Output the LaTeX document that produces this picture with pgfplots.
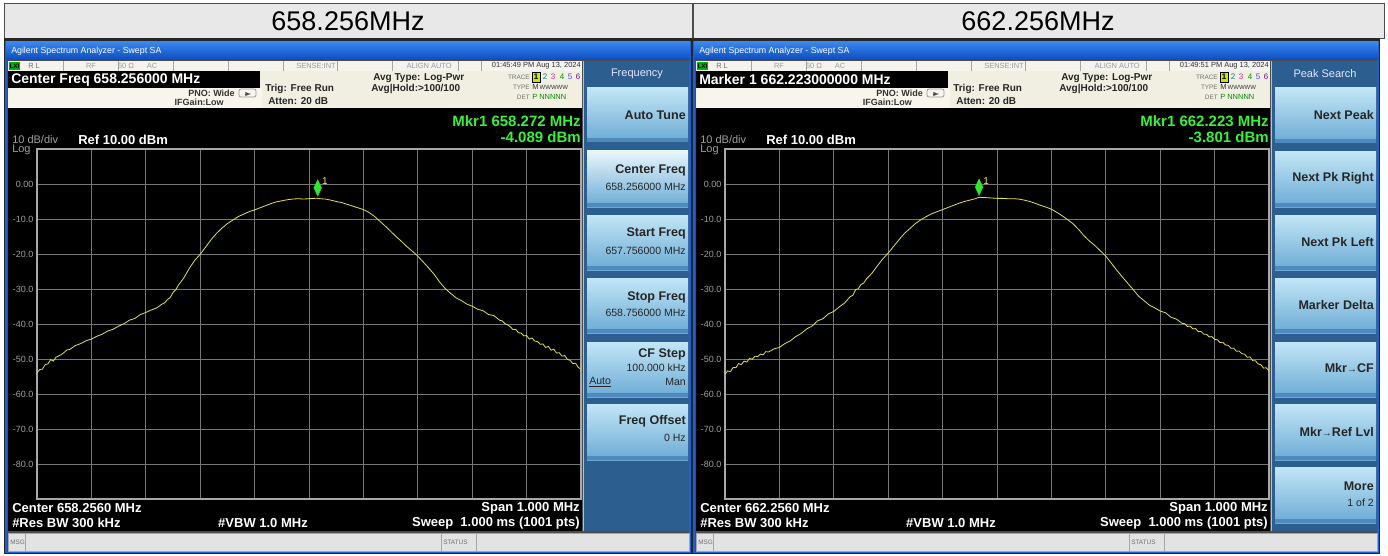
\documentclass[border=0pt]{standalone}
\usepackage{pgfplots}
\pgfplotsset{compat=1.18}
\usepackage{fontspec}
\setmainfont{Liberation Sans}
\newcommand\fs[1]{\fontsize{#1}{#1}\selectfont}
\definecolor{titlebg}{HTML}{E8E8E8}
\definecolor{winblue}{HTML}{1C5FD6}
\definecolor{wintop}{HTML}{3A86EE}
\definecolor{winbot}{HTML}{0A4CC0}
\definecolor{statbg}{HTML}{F4F3EE}
\definecolor{infobg}{HTML}{F1EFE2}
\definecolor{infobg2}{HTML}{F7F5EC}
\definecolor{skpanel}{HTML}{2D5E90}
\definecolor{btntop}{HTML}{C2E6F5}
\definecolor{btnmid}{HTML}{86C5E3}
\definecolor{btnbot}{HTML}{6BAAD5}
\definecolor{btnband}{HTML}{4F8ABD}
\definecolor{btnhtop}{HTML}{E8F6FB}
\definecolor{btnhmid}{HTML}{B0DCF0}
\definecolor{gridc}{HTML}{767676}
\definecolor{axc}{HTML}{A8A8A8}
\definecolor{trace}{HTML}{E2E24C}
\definecolor{mkg}{HTML}{2EE82E}
\definecolor{mktxt}{HTML}{3AF03A}
\definecolor{tickc}{HTML}{A0A0A0}
\definecolor{msgbg}{HTML}{E3E3E3}
\definecolor{stattxt}{HTML}{707070}

\pgfplotstableread{
x y
-500 -54.0
-495 -53.0
-490 -52.9
-485 -51.6
-480 -51.4
-475 -50.2
-470 -50.6
-465 -49.5
-460 -49.1
-455 -48.7
-450 -48.1
-445 -47.4
-440 -47.3
-430 -46.2
-420 -45.6
-410 -44.8
-400 -44.3
-390 -43.5
-380 -42.9
-370 -42.0
-360 -41.5
-350 -40.6
-340 -39.9
-330 -38.9
-320 -38.4
-310 -37.3
-300 -36.7
-290 -36.0
-280 -35.4
-270 -34.3
-265 -33.9
-260 -33.0
-255 -32.4
-250 -31.0
-245 -30.2
-240 -28.9
-230 -26.8
-220 -24.1
-210 -21.8
-200 -20.1
-190 -18.0
-180 -15.9
-170 -14.1
-160 -12.6
-150 -11.3
-140 -10.3
-130 -9.3
-120 -8.6
-110 -7.9
-100 -7.4
-90 -6.8
-80 -6.2
-70 -5.6
-60 -5.1
-50 -4.8
-40 -4.5
-30 -4.3
-20 -4.2
-10 -4.3
0 -4.2
10 -4.1
16 -4.09
20 -4.2
30 -4.3
40 -4.6
50 -5.0
60 -5.3
70 -5.8
80 -6.3
90 -6.8
100 -7.3
110 -8.1
120 -9.2
130 -10.6
140 -12.0
150 -13.5
160 -15.0
170 -16.4
180 -17.9
190 -19.2
200 -20.6
210 -22.3
220 -24.0
230 -25.8
240 -28.0
250 -29.8
260 -31.2
270 -32.5
280 -33.3
290 -34.3
300 -34.9
310 -35.8
320 -36.2
330 -37.3
340 -37.6
350 -38.9
355 -39.1
360 -39.9
365 -40.2
370 -40.8
375 -41.6
380 -41.5
385 -42.5
390 -42.6
395 -43.4
400 -43.3
405 -44.3
410 -44.0
415 -44.9
420 -45.0
425 -45.8
430 -45.7
435 -46.7
440 -46.4
445 -47.5
450 -47.2
455 -48.3
460 -48.2
465 -49.2
470 -49.0
475 -50.1
480 -50.4
485 -51.3
490 -51.2
495 -52.4
500 -52.9
}\traceA

\pgfplotstableread{
x y
-500 -54.3
-495 -53.4
-490 -53.6
-485 -52.4
-480 -52.5
-475 -51.3
-470 -51.6
-465 -50.6
-460 -50.9
-455 -49.8
-450 -50.1
-445 -49.2
-440 -49.3
-435 -48.6
-430 -48.8
-425 -47.9
-420 -48.0
-410 -47.1
-400 -46.7
-390 -45.6
-380 -44.8
-370 -43.6
-360 -42.7
-350 -41.4
-340 -40.6
-330 -39.1
-320 -38.5
-310 -37.1
-300 -36.4
-290 -35.1
-280 -34.0
-270 -32.2
-265 -31.8
-260 -30.2
-255 -29.9
-250 -28.7
-245 -28.3
-240 -27.1
-230 -25.5
-220 -23.4
-210 -21.4
-200 -19.7
-190 -17.8
-180 -15.9
-170 -14.1
-160 -12.7
-150 -11.3
-140 -10.2
-130 -9.3
-120 -8.5
-110 -7.9
-100 -7.3
-90 -6.7
-80 -6.1
-70 -5.5
-60 -5.0
-50 -4.6
-40 -4.2
-33 -3.80
-20 -3.9
-10 -4.0
0 -4.1
10 -4.1
20 -4.2
30 -4.2
40 -4.3
50 -4.6
60 -5.0
70 -5.5
80 -6.1
90 -6.6
100 -7.2
110 -8.1
120 -9.1
130 -10.2
140 -11.4
150 -13.0
160 -14.8
170 -16.3
180 -17.6
190 -19.1
200 -20.6
210 -22.6
220 -24.6
230 -26.5
240 -28.3
250 -30.1
260 -32.0
270 -33.3
280 -34.6
290 -35.4
300 -36.3
310 -36.8
320 -38.1
330 -38.6
340 -39.8
345 -39.9
350 -40.7
355 -40.6
360 -41.4
365 -41.3
370 -42.2
375 -42.1
380 -42.9
385 -42.9
390 -43.7
395 -43.6
400 -44.4
405 -44.5
410 -45.3
415 -45.2
420 -46.0
425 -46.1
430 -46.9
435 -46.9
440 -47.8
445 -47.7
450 -48.5
455 -48.6
460 -49.5
465 -49.4
470 -50.5
475 -50.5
480 -51.4
485 -51.6
490 -52.6
495 -52.5
500 -53.4
}\traceB

\pgfplotsset{sa/.style={
  width=408pt, height=262.5pt, scale only axis, anchor=south west,
  xmin=-500, xmax=500, ymin=-90, ymax=10,
  xtick={-400,-300,...,400}, xticklabels={},
  ytick={-80,-70,...,0},
  yticklabels={-80.0,-70.0,-60.0,-50.0,-40.0,-30.0,-20.0,-10.0,0.00},
  grid=major, major grid style={draw=gridc, line width=0.75pt},
  major tick length=0pt,
  axis line style={draw=axc, line width=1.2pt},
  axis background/.style={fill=black},
  yticklabel style={font=\fs{6.75}, text=tickc, inner sep=0pt, xshift=-2.5pt},
}}

\newcommand\btn[2]{% y0 y1 (x from 587 to 688)
  \shade[top color=btntop, middle color=btnmid, bottom color=btnbot] (587,#1) rectangle (688,#2);
  \fill[btnband] (587,#2-4) rectangle (688,#2);
}
\newcommand\btnh[2]{%
  \shade[top color=btnhtop, middle color=btnhmid, bottom color=btnbot] (587,#1) rectangle (688,#2);
  \fill[btnband] (587,#2-4) rectangle (688,#2);
}

\newcommand\common[2]{%
\begin{scope}[xshift=#1*0.75pt]
  \fill[black!85] (4,38) rectangle (692,554);
  \fill[winblue] (5,41) rectangle (691,553);
  \shade[top color=wintop, bottom color=winbot] (6,42) rectangle (690,60);
  \node[anchor=west, inner sep=0pt, text=white, font=\fs{6.6}] at (11,51) {Agilent Spectrum Analyzer - Swept SA};
  \fill[black!70] (7,60) rectangle (689,552);
  % status row
  \fill[statbg] (8,61) rectangle (582,71);
  \foreach \xx in {63,118,173,228,283,337,392,458,481} \draw[black!35, line width=0.5pt] (\xx,61) -- (\xx,71);
  \fill[green!70!black] (9,62) rectangle (20,70);
  \node[inner sep=0pt, font=\fs{4.8}\bfseries] at (14.5,66) {LXI};
  \node[anchor=west, inner sep=0pt, text=stattxt, font=\fs{5.6}] at (28,66) {R L};
  \node[inner sep=0pt, text=stattxt!70, font=\fs{5.6}] at (91,66) {RF};
  \node[inner sep=0pt, text=stattxt!70, font=\fs{5.6}] at (126,66) {50 Ω};
  \node[inner sep=0pt, text=stattxt!70, font=\fs{5.6}] at (152,66) {AC};
  \node[anchor=east, inner sep=0pt, text=stattxt!70, font=\fs{5.6}] at (336,66) {SENSE:INT};
  \node[anchor=east, inner sep=0pt, text=stattxt!70, font=\fs{5.6}] at (452,66) {ALIGN AUTO};
  % info area
  \fill[infobg] (8,71) rectangle (582,108);
  \fill[infobg2] (8,88) rectangle (262,108);
  \fill[black] (8,71) rectangle (260,88);
  \draw[black!40, rounded corners=1.5pt, line width=0.6pt] (239,89) rectangle (256,97);
  \draw[black!70, -latex, line width=0.5pt] (245,94) -- (251,94);
  \node[anchor=east, inner sep=0pt, font=\fs{6.75}\bfseries, text=black!80] at (235,93) {PNO: Wide};
  \node[anchor=east, inner sep=0pt, font=\fs{6.75}\bfseries, text=black!80] at (224,102) {IFGain:Low};
  \node[anchor=west, inner sep=0pt, font=\fs{7.5}\bfseries, text=black!85] at (265,89) {Trig: Free Run};
  \node[anchor=west, inner sep=0pt, font=\fs{7.5}\bfseries, text=black!85] at (268,101) {Atten: 20 dB};
  \node[anchor=west, inner sep=0pt, font=\fs{7.5}\bfseries, text=black!85] at (373,78) {Avg Type: Log-Pwr};
  \node[anchor=west, inner sep=0pt, font=\fs{7.5}\bfseries, text=black!85] at (371,89) {Avg|Hold:>100/100};
  \node[anchor=east, inner sep=0pt, font=\fs{4.8}, text=stattxt] at (530,77) {TRACE};
  \node[anchor=east, inner sep=0pt, font=\fs{4.8}, text=stattxt] at (530,87) {TYPE};
  \node[anchor=east, inner sep=0pt, font=\fs{4.8}, text=stattxt] at (530,97) {DET};
  \fill[yellow!80!green] (532,72) rectangle (540,82);
  \draw[black, line width=0.4pt] (532,72) rectangle (540,82);
  \node[inner sep=0pt, font=\fs{6}\bfseries] at (536,77) {1};
  \node[inner sep=0pt, font=\fs{6}, text=teal] at (545,77) {2};
  \node[inner sep=0pt, font=\fs{6}, text=magenta!80!black] at (553,77) {3};
  \node[inner sep=0pt, font=\fs{6}, text=green!60!black] at (562,77) {4};
  \node[inner sep=0pt, font=\fs{6}, text=blue!70] at (570,77) {5};
  \node[inner sep=0pt, font=\fs{6}, text=violet] at (578,77) {6};
  \node[anchor=west, inner sep=0pt, font=\fs{5.6}, text=black!80] at (532,87) {M\,{\fs{4.5}WWWWW}};
  \node[anchor=west, inner sep=0pt, font=\fs{5.6}, text=green!55!black] at (532,97) {P NNNNN};
  % screen
  \fill[black] (8,108) rectangle (582,531);
  \draw[black!25, line width=0.7pt] (583,61) -- (583,531);
  \node[anchor=west, inner sep=0pt, font=\fs{8.25}, text=tickc] at (12,140) {10 dB/div};
  \node[anchor=west, inner sep=0pt, font=\fs{8.25}, text=tickc] at (12,150) {Log};
  \node[anchor=west, inner sep=0pt, font=\fs{9.75}\bfseries, text=white] at (78,140) {Ref 10.00 dBm};
  \node[anchor=west, inner sep=0pt, font=\fs{9.75}\bfseries, text=white] at (12,508) {Center #2.2560 MHz};
  \node[anchor=east, inner sep=0pt, font=\fs{9.75}\bfseries, text=white] at (580,508) {Span 1.000 MHz};
  \node[anchor=west, inner sep=0pt, font=\fs{9.75}\bfseries, text=white] at (12,523) {\#Res BW 300 kHz};
  \node[inner sep=0pt, font=\fs{9.75}\bfseries, text=white] at (263,523) {\#VBW 1.0 MHz};
  \node[anchor=east, inner sep=0pt, font=\fs{9.75}\bfseries, text=white] at (580,523) {Sweep\ \ 1.000 ms (1001 pts)};
  % msg bar
  \fill[msgbg] (8,533) rectangle (689,551);
  \draw[black!35, line width=0.5pt] (8,533) rectangle (689,551);
  \foreach \xx in {25,441,476} \draw[black!35, line width=0.5pt] (\xx,533) -- (\xx,551);
  \node[anchor=west, inner sep=0pt, font=\fs{4.8}, text=stattxt] at (10,542) {MSG};
  \node[anchor=west, inner sep=0pt, font=\fs{4.8}, text=stattxt] at (443,542) {STATUS};
  % softkey panel
  \fill[skpanel] (584,61) rectangle (689,531);
\end{scope}}

\begin{document}
\begin{tikzpicture}[x=0.75pt, y=-0.75pt]
  \fill[white] (0,0) rectangle (1388,556);
  % title boxes
  \fill[titlebg] (4,3) rectangle (692,38);
  \draw[black!70, line width=0.6pt] (4,3) rectangle (692,38);
  \fill[titlebg] (693,3) rectangle (1384,38);
  \draw[black!70, line width=0.6pt] (693,3) rectangle (1384,38);
  \node[font=\fs{20.25}] at (348,21) {658.256MHz};
  \node[font=\fs{20.25}] at (1038,21) {662.256MHz};

  \common{0}{658}
  \common{688}{662}

  % left specific
  \node[anchor=west, inner sep=0pt, font=\fs{10.5}\bfseries, text=white] at (11,80) {Center Freq 658.256000 MHz};
  \node[anchor=east, inner sep=0pt, font=\fs{5.6}, text=black!80] at (581,66) {01:45:49 PM Aug 13, 2024};
  \node[anchor=east, inner sep=0pt, font=\fs{11.25}\bfseries, text=mktxt] at (581,121) {Mkr1 658.272 MHz};
  \node[anchor=east, inner sep=0pt, font=\fs{11.25}\bfseries, text=mktxt] at (581,137) {-4.089 dBm};
  \node[inner sep=0pt, font=\fs{8.25}, text=white!90!blue] at (637,74) {Frequency};
  \btn{88}{142}
  \btnh{151}{207}
  \btn{215}{270}
  \btn{278}{333}
  \btn{342}{397}
  \btn{404}{460}
  \begin{scope}[every node/.style={anchor=east, inner sep=0pt, text=black!85}]
    \node[font=\fs{9.4}\bfseries] at (686,115) {Auto Tune};
    \node[font=\fs{9.4}\bfseries] at (686,170) {Center Freq};
    \node[font=\fs{7.9}] at (686,187) {658.256000 MHz};
    \node[font=\fs{9.4}\bfseries] at (686,233) {Start Freq};
    \node[font=\fs{7.9}] at (686,251) {657.756000 MHz};
    \node[font=\fs{9.4}\bfseries] at (686,297) {Stop Freq};
    \node[font=\fs{7.9}] at (686,313) {658.756000 MHz};
    \node[font=\fs{9.4}\bfseries] at (686,354) {CF Step};
    \node[font=\fs{7.9}] at (686,368) {100.000 kHz};
    \node[font=\fs{7.9}] at (686,382) {Man};
    \node[font=\fs{7.9}, anchor=west] at (589,382) {\underline{Auto}};
    \node[font=\fs{9.4}\bfseries] at (686,421) {Freq Offset};
    \node[font=\fs{7.9}] at (686,438) {0 Hz};
  \end{scope}

  % right specific
  \node[anchor=west, inner sep=0pt, font=\fs{10.5}\bfseries, text=white] at (699,80) {Marker 1 662.223000000 MHz};
  \node[anchor=east, inner sep=0pt, font=\fs{5.6}, text=black!80] at (1269,66) {01:49:51 PM Aug 13, 2024};
  \node[anchor=east, inner sep=0pt, font=\fs{11.25}\bfseries, text=mktxt] at (1269,121) {Mkr1 662.223 MHz};
  \node[anchor=east, inner sep=0pt, font=\fs{11.25}\bfseries, text=mktxt] at (1269,137) {-3.801 dBm};
  \node[inner sep=0pt, font=\fs{8.25}, text=white!90!blue] at (1325,74) {Peak Search};
  \begin{scope}[xshift=516pt]
    \btn{88}{143}
    \btn{152}{207}
    \btn{215}{270}
    \btn{278}{333}
    \btn{342}{397}
    \btn{404}{460}
    \btn{467}{523}
    \begin{scope}[every node/.style={anchor=east, inner sep=0pt, text=black!85}]
      \node[font=\fs{9.4}\bfseries] at (686,115) {Next Peak};
      \node[font=\fs{9.4}\bfseries] at (686,178) {Next Pk Right};
      \node[font=\fs{9.4}\bfseries] at (686,242) {Next Pk Left};
      \node[font=\fs{9.4}\bfseries] at (686,305) {Marker Delta};
      \node[font=\fs{9.4}\bfseries] at (686,368) {Mkr{\fs{7.5}→}CF};
      \node[font=\fs{9.4}\bfseries] at (686,432) {Mkr{\fs{7.5}→}Ref Lvl};
      \node[font=\fs{9.4}\bfseries] at (686,486) {More};
      \node[font=\fs{7.9}] at (686,503) {1 of 2};
    \end{scope}
  \end{scope}

  % plots
  \begin{axis}[sa, at={(27.75pt,-374.25pt)}]
    \addplot[trace, line width=0.6pt] table[x=x, y=y] {\traceA};
    \addplot[only marks, mark=diamond*, mark size=6pt, mark options={xscale=0.62, fill=mkg, draw=mkg}] coordinates {(16,-1.1)};
    \node[text=yellow!90!white, font=\fs{7.5}, inner sep=0pt] at (axis cs:29,0.9) {1};
  \end{axis}
  \begin{axis}[sa, at={(543.75pt,-374.25pt)}]
    \addplot[trace, line width=0.6pt] table[x=x, y=y] {\traceB};
    \addplot[only marks, mark=diamond*, mark size=6pt, mark options={xscale=0.62, fill=mkg, draw=mkg}] coordinates {(-33,-0.9)};
    \node[text=yellow!90!white, font=\fs{7.5}, inner sep=0pt] at (axis cs:-20,0.9) {1};
  \end{axis}
\end{tikzpicture}
\end{document}
